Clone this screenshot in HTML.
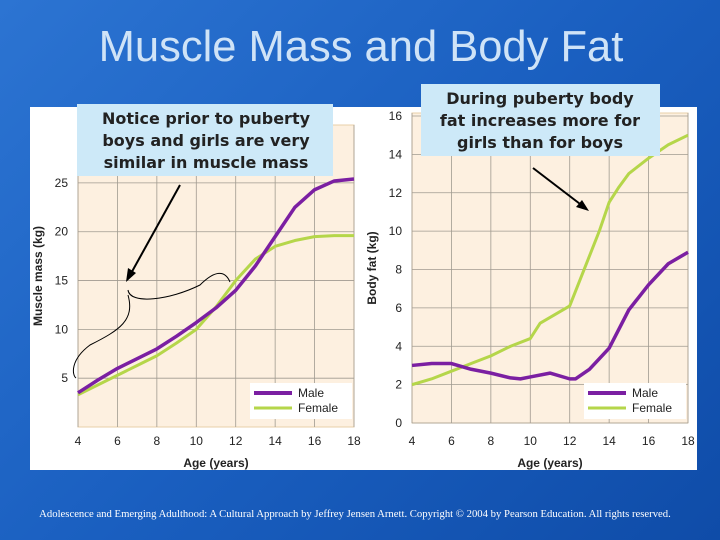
<!DOCTYPE html>
<html><head><meta charset="utf-8"><style>
body{margin:0;width:720px;height:540px;overflow:hidden;font-family:"Liberation Sans",sans-serif}
#bg{position:absolute;left:0;top:0;width:720px;height:540px;background:linear-gradient(135deg,#2c74d2 0%,#1a5fc0 50%,#0f4ca8 100%)}
</style></head><body>
<div id="bg"></div>
<svg width="720" height="540" style="position:absolute;left:0;top:0">
<text x="361" y="61" text-anchor="middle" font-size="43.5" fill="#cfe3f7">Muscle Mass and Body Fat</text>
<rect x="30" y="107" width="667" height="363" fill="#fff"/>
<g id="left"></g>
<g id="right"></g>
<g>
<rect x="77" y="104" width="256" height="72" fill="#cde9f8"/>
<g font-family="DejaVu Sans,sans-serif" font-weight="bold" font-size="16" fill="#222" text-anchor="middle">
<text x="206" y="124">Notice prior to puberty</text>
<text x="206" y="146">boys and girls are very</text>
<text x="206" y="168">similar in muscle mass</text></g>
<line x1="180" y1="185" x2="129" y2="277" stroke="#000" stroke-width="2"/>
<polygon points="126,282 128,268 136,273" fill="#000"/>
<path d="M128,290 C130,305 170,300 200,285 C215,270 225,270 230,282 M128,295 C135,320 120,330 90,345 C70,360 72,375 76,378" fill="none" stroke="#000" stroke-width="1"/>
</g>
<g>
<rect x="421" y="84" width="239" height="72" fill="#cde9f8"/>
<g font-family="DejaVu Sans,sans-serif" font-weight="bold" font-size="16" fill="#222" text-anchor="middle">
<text x="540" y="104">During puberty body</text>
<text x="540" y="126">fat increases more for</text>
<text x="540" y="148">girls than for boys</text></g>
<line x1="533" y1="168" x2="584" y2="207" stroke="#000" stroke-width="2"/>
<polygon points="589,211 576,207 582,200" fill="#000"/>
</g>
<text x="355" y="517" text-anchor="middle" font-family="Liberation Serif,serif" font-size="10.7" fill="#fff">Adolescence and Emerging Adulthood: A Cultural Approach by Jeffrey Jensen Arnett.  Copyright © 2004 by Pearson Education. All rights reserved.</text>
</svg>
<script>
const ages=[4,5,6,7,8,9,10,11,12,13,14,15,16,17,18];
const muscleMale=[3.5,4.8,6,7,8,9.3,10.7,12.2,14,16.5,19.5,22.5,24.3,25.2,25.4];
const muscleFemale=[3.3,4.3,5.3,6.3,7.3,8.6,10,12.3,15,17.2,18.5,19.1,19.5,19.6,19.6];
const fatAges=[4,5,6,7,8,9,9.5,10,11,12,12.3,13,14,15,16,17,18];
const fatMale=[3,3.1,3.1,2.8,2.6,2.35,2.3,2.4,2.6,2.3,2.3,2.8,3.9,5.9,7.2,8.3,8.9];
const fatFemaleAges=[4,5,6,7,8,9,10,10.5,11,12,13,13.5,14,14.5,15,16,17,18];
const fatFemale=[2,2.3,2.7,3.1,3.5,4,4.4,5.2,5.5,6.1,8.7,10,11.5,12.3,13,13.8,14.5,15];
const xTicks=[4,6,8,10,12,14,16,18];
const muscleTicks=[5,10,15,20,25];
const fatTicks=[0,2,4,6,8,10,12,14,16];
const NS='http://www.w3.org/2000/svg';
function mk(p,t,a){const e=document.createElementNS(NS,t);for(const k in a)e.setAttribute(k,a[k]);p.appendChild(e);return e;}
function chart(g,o){
 const sx=v=>o.x0+(v-4)/14*(o.x1-o.x0);
 const sy=v=>o.yb-(v-o.vmin)/(o.vmax-o.vmin)*(o.yb-o.yt);
 const bg=mk(g,'rect',{x:o.x0,y:o.top,width:o.x1-o.x0,height:o.yb-o.top,fill:'#fdf0e0',stroke:'#e8cfa8'});
 
 
 xTicks.forEach(t=>{
  const l=mk(g,'line',{x1:sx(t),x2:sx(t),y1:o.top,y2:o.yb,stroke:'#a09a90','stroke-width':0.8});
  
  
  const tx=mk(g,'text',{x:sx(t),y:445,'text-anchor':'middle','font-size':12,fill:'#222'});tx.textContent=t;
  
  
 });
 o.ticks.forEach(t=>{
  const l=mk(g,'line',{x1:o.x0,x2:o.x1,y1:sy(t),y2:sy(t),stroke:'#a09a90','stroke-width':0.8});
  
  
  const tx=mk(g,'text',{x:o.x0-10,y:sy(t)+4,'text-anchor':'end','font-size':12,fill:'#222'});tx.textContent=t;
  
  
 });
 const xt=mk(g,'text',{x:(o.x0+o.x1)/2,y:467,'text-anchor':'middle','font-size':12,'font-weight':'bold',fill:'#222'});xt.textContent='Age (years)';
 
 
 const yc=(o.top+o.yb)/2;
 const yt=mk(g,'text',{x:o.ytx,y:yc,'text-anchor':'middle','font-size':12,'font-weight':'bold',fill:'#222',transform:`rotate(-90 ${o.ytx} ${yc})`});yt.textContent=o.ytitle;
 
 
 const line=(xs,ys,c,w,n)=>{const p=mk(g,'path',{d:xs.map((x,i)=>(i?'L':'M')+sx(x)+','+sy(ys[i])).join(''),fill:'none',stroke:c,'stroke-width':w,'stroke-linejoin':'round'});
  
  };
 line(o.fx,o.f,'#b5d64a',3,'female-line');
 line(o.mx,o.m,'#7b1fa2',3.5,'male-line');
 const lg=mk(g,'g',{});
 
 
 const lx=o.x1-104;
 mk(lg,'rect',{x:lx,y:383,width:102,height:36,fill:'#fff'});
 mk(lg,'line',{x1:lx+4,x2:lx+42,y1:393,y2:393,stroke:'#7b1fa2','stroke-width':4});
 mk(lg,'line',{x1:lx+4,x2:lx+42,y1:408,y2:408,stroke:'#b5d64a','stroke-width':3});
 const t1=mk(lg,'text',{x:lx+48,y:397,'font-size':12,fill:'#222'});t1.textContent='Male';
 const t2=mk(lg,'text',{x:lx+48,y:412,'font-size':12,fill:'#222'});t2.textContent='Female';
}
chart(document.getElementById('left'),{x0:78,x1:354,yb:427,yt:179,vmin:0,vmax:25.4,top:125,ticks:muscleTicks,ytitle:'Muscle mass (kg)',ytx:42,mx:ages,m:muscleMale,fx:ages,f:muscleFemale});
chart(document.getElementById('right'),{x0:412,x1:688,yb:423,yt:116,vmin:0,vmax:16,top:113,ticks:fatTicks,ytitle:'Body fat (kg)',ytx:376,mx:fatAges,m:fatMale,fx:fatFemaleAges,f:fatFemale});
</script>
</body></html>
